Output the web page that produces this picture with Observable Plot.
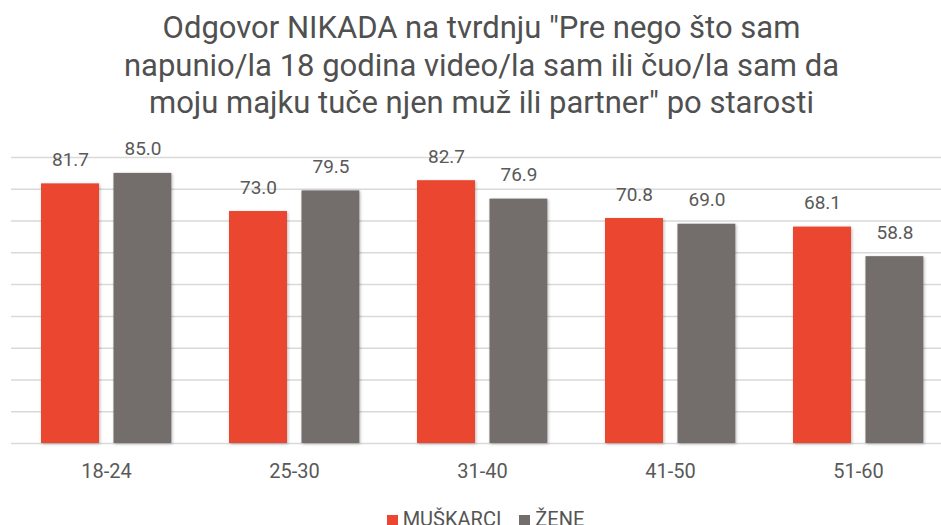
<!DOCTYPE html>
<html>
<head>
<meta charset="utf-8">
<script src="https://cdn.jsdelivr.net/npm/d3@7"></script>
<script src="https://cdn.jsdelivr.net/npm/@observablehq/plot@0.6"></script>
<style>
  html, body { margin: 0; padding: 0; background: #fff; overflow: hidden; }
  body { width: 941px; height: 525px; font-family: Roboto, sans-serif; }
  #title { box-sizing: border-box; height: 122px; padding-top: 9px; padding-left: 22px;
           text-align: center; font-size: 31px; line-height: 37.5px; color: #505050; white-space: nowrap; }
  #chart svg { display: block; overflow: visible; }
  #chart rect.bar { filter: drop-shadow(1px 1px 1.5px rgba(0,0,0,0.28)); }
  #legend { margin-top: 12px; height: 20px; line-height: 20px; font-size: 20px; color: #555;
            text-align: center; padding-left: 30px; white-space: nowrap; }
  #legend .sw { display: inline-block; width: 11px; height: 11px; margin-right: 5px; vertical-align: 0px; }
  #legend .item { margin: 0 9px; }
</style>
</head>
<body>
<div id="title">Odgovor NIKADA na tvrdnju "Pre nego što sam<br>napunio/la 18 godina video/la sam ili čuo/la sam da<br>moju majku tuče njen muž ili partner" po starosti</div>
<div id="chart"></div>
<div id="legend"></div>
<script>
const categories = ["18-24", "25-30", "31-40", "41-50", "51-60"];
const seriesNames = ["MUŠKARCI", "ŽENE"];
const muskarci = [81.7, 73.0, 82.7, 70.8, 68.1];
const zene = [85.0, 79.5, 76.9, 69.0, 58.8];
const yTicks = [0, 10, 20, 30, 40, 50, 60, 70, 80, 90];
const colors = ["#EA4630", "#736E6C"];

const dataM = categories.map((c, i) => ({age: c, value: muskarci[i]}));
const dataZ = categories.map((c, i) => ({age: c, value: zene[i]}));

const plot = Plot.plot({
  width: 941,
  height: 375,
  marginLeft: 11,
  marginRight: -11,
  marginTop: 35,
  marginBottom: 54,
  style: {fontFamily: "Roboto, sans-serif", background: "transparent"},
  x: {domain: categories, padding: 0, label: null, tickSize: 0, tickPadding: 20},
  y: {domain: [0, 90], axis: null},
  marks: [
    Plot.ruleY(yTicks, {stroke: "#d9d9d9", strokeWidth: 1.5}),
    Plot.barY(dataM, {x: "age", y: "value", fill: colors[0], insetLeft: 29, insetRight: 101}),
    Plot.barY(dataZ, {x: "age", y: "value", fill: colors[1], insetLeft: 101.5, insetRight: 28.7}),
    Plot.text(dataM, {x: "age", y: "value", text: d => d.value.toFixed(1), dx: -36, dy: -24, fontSize: 19, fill: "#595959"}),
    Plot.text(dataZ, {x: "age", y: "value", text: d => d.value.toFixed(1), dx: 36.5, dy: -24, fontSize: 19, fill: "#595959"}),
    Plot.axisX({tickSize: 0, tickPadding: 20, fontSize: 20, color: "#595959", label: null})
  ]
});
document.getElementById("chart").appendChild(plot);
plot.querySelectorAll("g[aria-label='bar'] rect").forEach(r => r.classList.add("bar"));

const legend = document.getElementById("legend");
seriesNames.forEach((s, i) => {
  const span = document.createElement("span");
  span.className = "item";
  span.innerHTML = `<span class="sw" style="background:${colors[i]}"></span>${s}`;
  legend.appendChild(span);
});
</script>
</body>
</html>
